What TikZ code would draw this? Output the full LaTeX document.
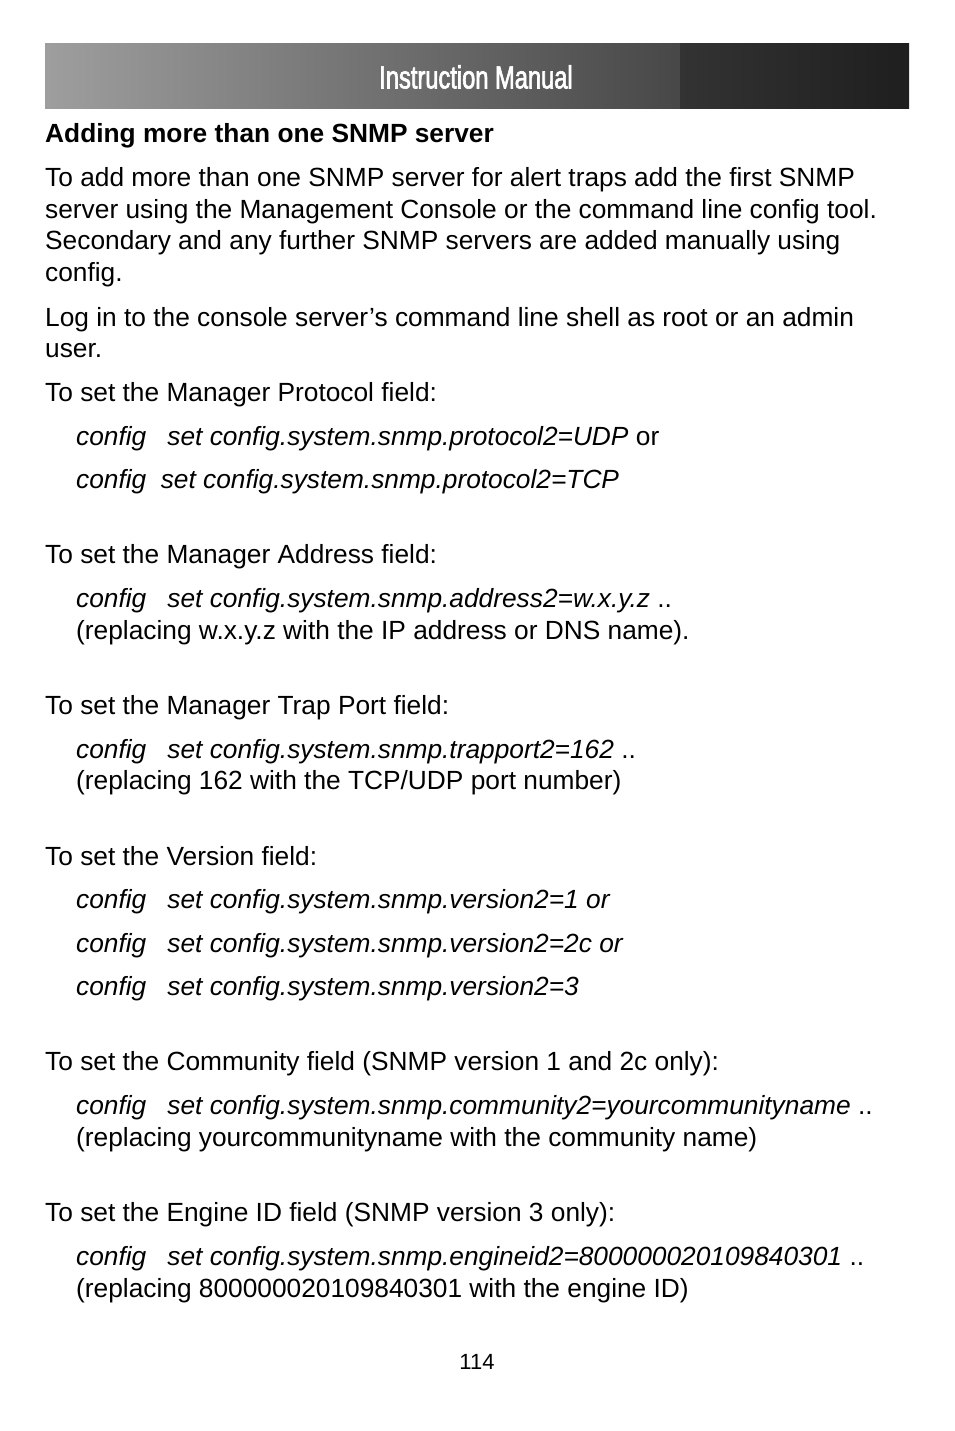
\documentclass[tikz,border=0pt]{standalone}
\usepackage{fontspec}
\setmainfont{Liberation Sans}
\newfontfamily\titlefont[FakeStretch=0.74,FakeBold=2]{Liberation Sans}
\begin{document}
\begin{tikzpicture}[x=1pt,y=-1pt,
  txt/.style={anchor=base west,inner sep=0pt,font=\fontsize{26.3}{30}\selectfont},
  cmd/.style={txt,font=\fontsize{26.3}{30}\selectfont\itshape}]
\useasboundingbox (0,0) rectangle (954,1431);
\fill[white] (0,0) rectangle (954,1431);
\shade[left color=black!38,right color=black!72] (45,44) rectangle (680,109);
\shade[left color=black!80,right color=black!88] (680,44) rectangle (909,109);
\node[inner sep=0pt,text=white,font=\titlefont\fontsize{32}{34}\selectfont] (title) at (476,77) {Instruction Manual};
\node[txt,font=\fontsize{26.3}{30}\selectfont\bfseries] (h) at (45,143) {Adding more than one SNMP server};
\node[txt] (p1) at (45,187) {To add more than one SNMP server for alert traps add the first SNMP};
\node[txt] (p2) at (45,219) {server using the Management Console or the command line config tool.};
\node[txt] (p3) at (45,250) {Secondary and any further SNMP servers are added manually using};
\node[txt] (p4) at (45,281) {config.};
\node[txt] (q1) at (45,326) {Log in to the console server’s command line shell as root or an admin};
\node[txt] (q2) at (45,357) {user.};
\node[txt] (a) at (45,401) {To set the Manager Protocol field:};
\node[cmd] (a1) at (76,445) {config\hspace{0.8em}set config.system.snmp.protocol2=UDP \upshape or};
\node[cmd] (a2) at (76,488) {config\hspace{0.55em}set config.system.snmp.protocol2=TCP};
\node[txt] (b) at (45,563) {To set the Manager Address field:};
\node[cmd] (b1) at (76,607) {config\hspace{0.8em}set config.system.snmp.address2=w.x.y.z \upshape ..};
\node[txt] (b2) at (76,639) {(replacing w.x.y.z with the IP address or DNS name).};
\node[txt] (c) at (45,714) {To set the Manager Trap Port field:};
\node[cmd] (c1) at (76,758) {config\hspace{0.8em}set config.system.snmp.trapport2=162 \upshape ..};
\node[txt] (c2) at (76,789) {(replacing 162 with the TCP/UDP port number)};
\node[txt] (d) at (45,865) {To set the Version field:};
\node[cmd] (d1) at (76,908) {config\hspace{0.8em}set config.system.snmp.version2=1 or};
\node[cmd] (d2) at (76,952) {config\hspace{0.8em}set config.system.snmp.version2=2c or};
\node[cmd] (d3) at (76,995) {config\hspace{0.8em}set config.system.snmp.version2=3};
\node[txt] (e) at (45,1070) {To set the Community field (SNMP version 1 and 2c only):};
\node[cmd] (e1) at (76,1114) {config\hspace{0.8em}set config.system.snmp.community2=yourcommunityname \upshape ..};
\node[txt] (e2) at (76,1146) {(replacing yourcommunityname with the community name)};
\node[txt] (f) at (45,1221) {To set the Engine ID field (SNMP version 3 only):};
\node[cmd] (f1) at (76,1265) {config\hspace{0.8em}set config.system.snmp.engineid2=800000020109840301 \upshape ..};
\node[txt] (f2) at (76,1297) {(replacing 800000020109840301 with the engine ID)};
\node[inner sep=0pt,font=\fontsize{22}{24}\selectfont] (pg) at (477,1362) {114};
\end{tikzpicture}
\end{document}
